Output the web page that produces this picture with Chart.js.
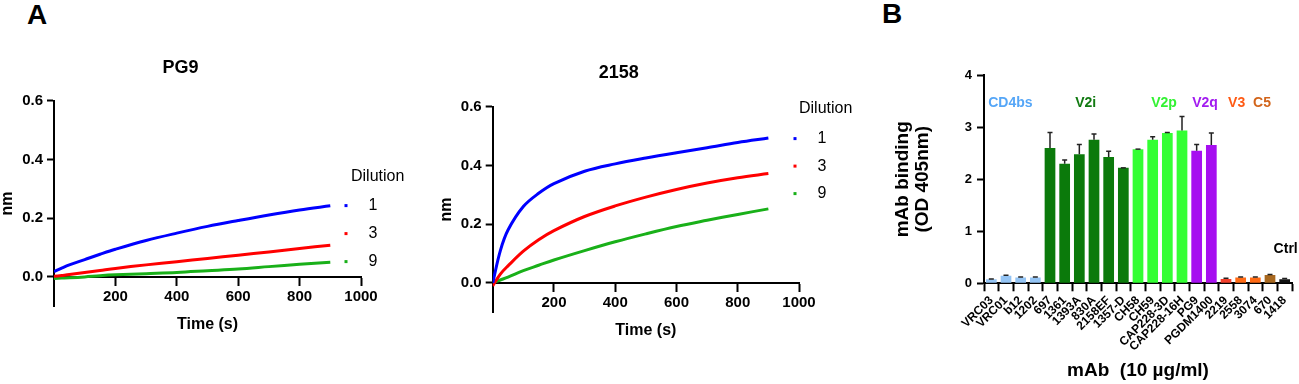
<!DOCTYPE html>
<html>
<head>
<meta charset="utf-8">
<script src="https://cdn.jsdelivr.net/npm/chart.js@4.4.1/dist/chart.umd.min.js"></script>
<style>
  html, body { margin: 0; padding: 0; background: #fff; }
  body { width: 1299px; height: 384px; position: relative; overflow: hidden; font-family: "Liberation Sans", Arial, sans-serif; }
  .panel { position: absolute; top: 0; }
  .letter { position: absolute; font-weight: bold; font-size: 28px; line-height: 28px; }
</style>
</head>
<body>
<div class="letter" style="left:27px;top:1px">A</div>
<div class="letter" style="left:882px;top:0px">B</div>
<div class="panel" style="left:0px"><canvas id="pg9" width="420" height="384"></canvas></div>
<div class="panel" style="left:420px"><canvas id="ab2158" width="440" height="384"></canvas></div>
<div class="panel" style="left:880px"><canvas id="elisa" width="419" height="384"></canvas></div>
<script>
// ---- data ----
const timeS = [0, 25, 50, 100, 150, 200, 300, 400, 500, 600, 700, 800, 900];
const dilutions = ['1', '3', '9'];

const pg9Dil1 = [0.018, 0.030, 0.041, 0.059, 0.077, 0.094, 0.124, 0.149, 0.172, 0.192, 0.211, 0.228, 0.242];
const pg9Dil3 = [0.002, 0.005, 0.008, 0.015, 0.022, 0.029, 0.041, 0.052, 0.063, 0.074, 0.085, 0.097, 0.108];
const pg9Dil9 = [-0.005, -0.004, -0.003, 0.0, 0.004, 0.007, 0.011, 0.015, 0.021, 0.027, 0.035, 0.043, 0.050];

const ab2158Dil1 = [0.0, 0.11, 0.18, 0.26, 0.305, 0.338, 0.38, 0.405, 0.425, 0.443, 0.46, 0.478, 0.493];
const ab2158Dil3 = [-0.01, 0.03, 0.058, 0.108, 0.147, 0.178, 0.226, 0.262, 0.292, 0.318, 0.34, 0.358, 0.372];
const ab2158Dil9 = [0.0, 0.01, 0.02, 0.042, 0.06, 0.078, 0.11, 0.14, 0.167, 0.192, 0.213, 0.233, 0.252];

const nmTicks = [0, 0.2, 0.4, 0.6];
const timeTicks = [200, 400, 600, 800, 1000];

const mAbs = ['VRC03', 'VRC01', 'b12', '1202', '697', '1361', '1393A', '830A', '2158EF', '1357-D',
  'CH58', 'CH59', 'CAP228-3D', 'CAP228-16H', 'PG9', 'PGDM1400', '2219', '2558', '3074', '670', '1418'];
const odMean = [0.08, 0.145, 0.11, 0.11, 2.60, 2.30, 2.48, 2.76, 2.43, 2.22,
  2.58, 2.76, 2.89, 2.94, 2.55, 2.66, 0.085, 0.11, 0.11, 0.16, 0.08];
const odErr = [0.005, 0.01, 0.01, 0.01, 0.30, 0.07, 0.19, 0.11, 0.11, 0,
  0, 0.06, 0.01, 0.27, 0.12, 0.23, 0.01, 0.01, 0.01, 0.01, 0.01];
const odTicks = [0, 1, 2, 3, 4];

const groupNames = ['CD4bs', 'V2i', 'V2p', 'V2q', 'V3', 'C5', 'Ctrl'];
const groupFirst = [0, 4, 10, 14, 16, 19, 20];
const groupLast = [3, 9, 13, 15, 18, 19, 20];

// ---- styles ----
const black = '#000';
const family = '"Liberation Sans", Arial, Helvetica, sans-serif';
const dilutionColors = ['#0000ff', '#ff0000', '#19b019'];
const barColors = ['#94c4f4', '#94c4f4', '#94c4f4', '#94c4f4',
  '#0b7a0b', '#0b7a0b', '#0b7a0b', '#0b7a0b', '#0b7a0b', '#0b7a0b',
  '#33ff33', '#33ff33', '#33ff33', '#33ff33',
  '#a60ff0', '#a60ff0',
  '#f2402c', '#ff6a14', '#ff6a14', '#a8681f', '#111111'];
const groupColors = ['#55a6f7', '#117a11', '#33f233', '#a21cf0', '#ff5a14', '#d2641a', '#000'];
const groupLabelY = [3.46, 3.46, 3.46, 3.46, 3.46, 3.46, 0.65];
const groupLabelDx = [-3, -1, 4, 1, -4, -8, 1];

function fixedTicks(values) {
  return scale => { scale.ticks = values.map(v => ({ value: v })); };
}

// legend drawn by hand so it can sit over the chart area like the original
const dilutionLegend = {
  id: 'dilutionLegend',
  afterDraw(chart, args, opts) {
    const { ctx, chartArea } = chart;
    ctx.save();
    ctx.font = '16px ' + family;
    ctx.fillStyle = black;
    ctx.textBaseline = 'middle';
    ctx.textAlign = 'left';
    const top = chartArea.top + opts.dy;
    ctx.fillText(opts.title, chartArea.right + opts.dx, top);
    chart.data.datasets.forEach((ds, i) => {
      const y = top + opts.firstGap + i * opts.rowGap;
      ctx.fillStyle = ds.borderColor;
      ctx.fillRect(chartArea.right + opts.dotDx - 1.5, y - 1.5, 3, 3);
      ctx.fillStyle = black;
      ctx.textAlign = 'center';
      ctx.fillText(ds.label, chartArea.right + opts.textDx, y);
      ctx.textAlign = 'left';
    });
    ctx.restore();
  }
};

function kineticsChart(id, title, series, geo, legendOpts) {
  new Chart(document.getElementById(id), {
    type: 'line',
    data: {
      datasets: series.map((vals, i) => ({
        label: dilutions[i],
        data: timeS.map((t, j) => ({ x: t, y: vals[j] })),
        borderColor: dilutionColors[i],
        backgroundColor: dilutionColors[i],
        borderWidth: 3,
        pointRadius: 0,
        tension: 0.35,
        fill: false
      }))
    },
    options: {
      responsive: false,
      animation: false,
      layout: { padding: geo.padding },
      plugins: {
        legend: { display: false },
        tooltip: { enabled: false },
        title: {
          display: true, text: title, color: black,
          font: { family, size: 18, weight: 'bold', lineHeight: 1.2 },
          padding: { top: geo.titleTop, bottom: geo.titleBottom }
        },
        dilutionLegend: legendOpts
      },
      scales: {
        x: {
          type: 'linear', min: 0, max: 1000,
          position: { y: 0 },
          afterBuildTicks: fixedTicks(timeTicks),
          grid: { display: true, drawOnChartArea: false, drawTicks: true, tickLength: 8, tickWidth: 2, tickColor: black },
          border: { display: true, color: black, width: 2 },
          ticks: { color: black, font: { family, size: 15, weight: 'bold' }, padding: 3, maxRotation: 0, autoSkip: false, callback: v => String(v) },
          title: { display: true, text: 'Time (s)', color: black, font: { family, size: 16, weight: 'bold', lineHeight: 1.2 }, padding: { top: 6, bottom: 0 } }
        },
        y: {
          type: 'linear', min: -0.1, max: 0.6,
          afterBuildTicks: fixedTicks(nmTicks),
          afterFit: s => { s.width = geo.yWidth; },
          grid: { display: true, drawOnChartArea: false, drawTicks: true, tickLength: 7, tickWidth: 2, tickColor: black },
          border: { display: true, color: black, width: 2 },
          ticks: { color: black, font: { family, size: 15, weight: 'bold' }, padding: 4, callback: v => v.toFixed(1) },
          title: { display: true, text: 'nm', color: black, font: { family, size: 16, weight: 'bold', lineHeight: 1 }, padding: 0 }
        }
      }
    },
    plugins: [dilutionLegend]
  });
}

kineticsChart('pg9', 'PG9', [pg9Dil1, pg9Dil3, pg9Dil9],
  { padding: { left: 0, right: 59, top: 0, bottom: 77.7 }, titleTop: 57, titleBottom: 22, yWidth: 54 },
  { title: 'Dilution', dx: -10, dy: 76, firstGap: 29, rowGap: 28, dotDx: -15, textDx: 12 });

kineticsChart('ab2158', '2158', [ab2158Dil1, ab2158Dil3, ab2158Dil9],
  { padding: { left: 18.7, right: 61, top: 0, bottom: 71.7 }, titleTop: 62, titleBottom: 23, yWidth: 54 },
  { title: 'Dilution', dx: 0, dy: 2, firstGap: 30, rowGap: 27.5, dotDx: -4, textDx: 23 });

// error bars (upper only) and epitope group labels for panel B
const errorBars = {
  id: 'errorBars',
  afterDatasetsDraw(chart) {
    const { ctx } = chart;
    const yScale = chart.scales.y;
    const meta = chart.getDatasetMeta(0);
    ctx.save();
    ctx.strokeStyle = '#222';
    ctx.lineWidth = 1.5;
    meta.data.forEach((bar, i) => {
      const yTop = yScale.getPixelForValue(odMean[i] + odErr[i]);
      const yBar = yScale.getPixelForValue(odMean[i]);
      ctx.beginPath();
      ctx.moveTo(bar.x, yBar);
      ctx.lineTo(bar.x, yTop);
      ctx.moveTo(bar.x - 2.5, yTop);
      ctx.lineTo(bar.x + 2.5, yTop);
      ctx.stroke();
    });
    ctx.restore();
  }
};

const groupLabels = {
  id: 'groupLabels',
  afterDraw(chart) {
    const { ctx } = chart;
    const xScale = chart.scales.x;
    const yScale = chart.scales.y;
    ctx.save();
    ctx.font = 'bold 14px ' + family;
    ctx.textAlign = 'center';
    ctx.textBaseline = 'middle';
    groupNames.forEach((name, g) => {
      const x = (xScale.getPixelForValue(groupFirst[g]) + xScale.getPixelForValue(groupLast[g])) / 2;
      ctx.fillStyle = groupColors[g];
      ctx.fillText(name, x + groupLabelDx[g], yScale.getPixelForValue(groupLabelY[g]));
    });
    ctx.restore();
  }
};

new Chart(document.getElementById('elisa'), {
  type: 'bar',
  data: {
    labels: mAbs,
    datasets: [{
      data: odMean,
      backgroundColor: barColors,
      borderWidth: 0,
      barPercentage: 0.73,
      categoryPercentage: 1.0
    }]
  },
  options: {
    responsive: false,
    animation: false,
    layout: { padding: { left: 13, right: 7, top: 75.3, bottom: 3 } },
    plugins: { legend: { display: false }, tooltip: { enabled: false } },
    scales: {
      x: {
        afterFit: s => { s.height = 97.7; },
        grid: { display: true, drawOnChartArea: false, drawTicks: true, tickLength: 8, tickWidth: 2, tickColor: black },
        border: { display: true, color: black, width: 2 },
        ticks: { color: black, font: { family, size: 12, weight: 'bold' }, padding: 2, autoSkip: false, maxRotation: 45, minRotation: 45 },
        title: { display: true, text: 'mAb  (10 µg/ml)', color: black, font: { family, size: 19, weight: 'bold', lineHeight: 1.05 }, padding: 0 }
      },
      y: {
        min: 0, max: 4,
        afterBuildTicks: fixedTicks(odTicks),
        afterFit: s => { s.width = 91; },
        grid: { display: true, drawOnChartArea: false, drawTicks: true, tickLength: 7, tickWidth: 2, tickColor: black },
        border: { display: true, color: black, width: 2 },
        ticks: { color: black, font: { family, size: 13, weight: 'bold' }, padding: 5 },
        title: { display: true, text: ['mAb binding', '(OD 405nm)'], color: black, font: { family, size: 19, weight: 'bold', lineHeight: 1.05 }, padding: 0 }
      }
    }
  },
  plugins: [errorBars, groupLabels]
});
</script>
</body>
</html>
